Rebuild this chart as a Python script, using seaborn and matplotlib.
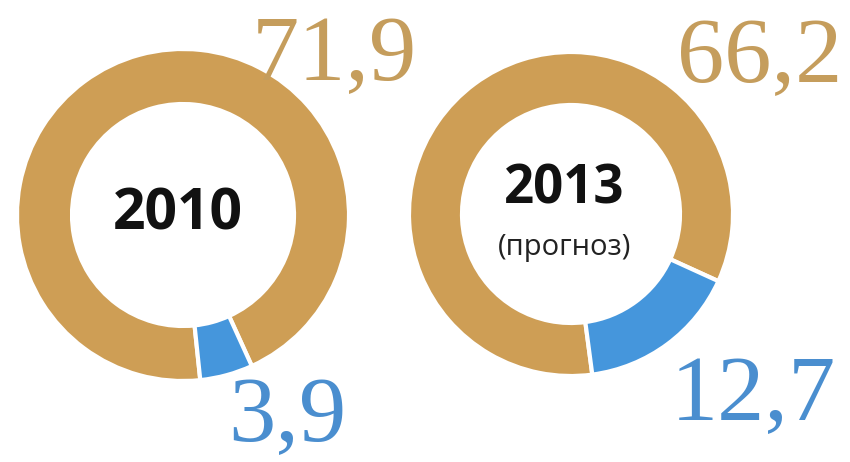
import matplotlib
import seaborn as sns

matplotlib.use("Agg")
import matplotlib.pyplot as plt

# values
years = ["2010", "2013"]
subtitles = ["", "(прогноз)"]
gold_values = [71.9, 66.2]
blue_values = [3.9, 12.7]
gold_labels = ["71,9", "66,2"]
blue_labels = ["3,9", "12,7"]

GOLD = "#CE9E55"
BLUE = "#4596DC"
GOLD_TEXT = "#C59D5C"
BLUE_TEXT = "#4A8ECF"

W, H = 850, 462


def py(y):
    # pixel row (from top) -> data y (from bottom)
    return H - y


sns.set_style("white")

fig = plt.figure(figsize=(8.5, 4.62), dpi=100)
ax = fig.add_axes([0, 0, 1, 1])

centers = [(183, py(215)), (571, py(214))]
radii = [166, 162]
ring_widths = [55, 53]
start_angles = [-65.5, -24.5]

for i in range(2):
    ax.pie(
        [gold_values[i], blue_values[i]],
        colors=[GOLD, BLUE],
        center=centers[i],
        radius=radii[i],
        startangle=start_angles[i],
        counterclock=True,
        wedgeprops=dict(width=ring_widths[i], edgecolor="white", linewidth=3),
    )

# centre labels
ax.text(178, py(214), years[0], ha="center", va="center", fontsize=41,
        fontweight="bold", family="Open Sans", color="#111111")
ax.text(564, py(189), years[1], ha="center", va="center", fontsize=38,
        fontweight="bold", family="Open Sans", color="#111111")
ax.text(565, py(247), subtitles[1], ha="center", va="center", fontsize=21,
        family="Open Sans", color="#222222")

# big serif numbers
num_style = dict(ha="center", va="baseline", fontsize=68, family="Liberation Serif")
ax.text(334, py(80), gold_labels[0], color=GOLD_TEXT, **num_style)
ax.text(760, py(82), gold_labels[1], color=GOLD_TEXT, **num_style)
ax.text(287, py(441), blue_labels[0], color=BLUE_TEXT, **num_style)
ax.text(753, py(420), blue_labels[1], color=BLUE_TEXT, **num_style)

ax.set_xlim(0, W)
ax.set_ylim(0, H)
ax.set_aspect("auto")
ax.axis("off")

fig.savefig("out.png", dpi=100, facecolor="white")
plt.close(fig)
